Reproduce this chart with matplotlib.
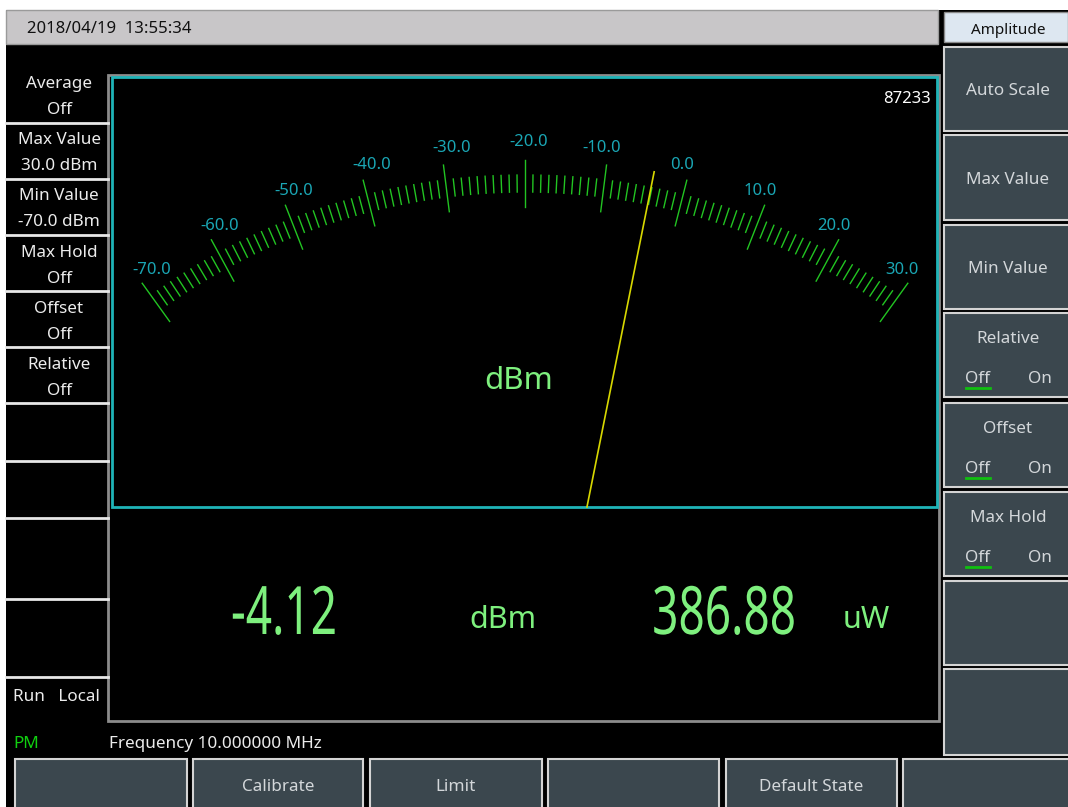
import numpy as np
import matplotlib.pyplot as plt
from matplotlib.patches import Rectangle
from matplotlib.patheffects import AbstractPathEffect
from matplotlib.transforms import Affine2D

# ---- screen content ----
timestamp = "2018/04/19  13:55:34"
left_menu = [("Average", "Off"), ("Max Value", "30.0 dBm"), ("Min Value", "-70.0 dBm"),
             ("Max Hold", "Off"), ("Offset", "Off"), ("Relative", "Off")]
right_title = "Amplitude"
right_keys = ["Auto Scale", "Max Value", "Min Value", "Relative", "Offset", "Max Hold", "", ""]
toggle_keys = ["Relative", "Offset", "Max Hold"]
bottom_keys = ["", "Calibrate", "Limit", "", "Default State", ""]
scale_min, scale_max = -70.0, 30.0
major_values = [-70, -60, -50, -40, -30, -20, -10, 0, 10, 20, 30]
power_dbm = -4.12
power_uw = 386.88
counter = "87233"
frequency = "Frequency 10.000000 MHz"
status = "Run   Local"
mode = "PM"

# ---- colours ----
BTN = "#3b474e"
BTN_EDGE = "#d4d4d4"
BTN_TXT = "#d3d7da"
GREEN_TXT = "#7ef07e"
TEAL = "#1fb4b8"
LABEL = "#1aa6b4"
TICK = "#22c422"
NEEDLE = "#d8d800"
FONT = ["Noto Sans", "DejaVu Sans"]

fig = plt.figure(figsize=(10.68, 8.07), dpi=100)
fig.patch.set_facecolor("black")
ax = fig.add_axes([0, 0, 1, 1])
ax.set_xlim(0, 1068)
ax.set_ylim(807, 0)
ax.axis("off")


class Squeeze(AbstractPathEffect):
    """narrow the glyphs horizontally around a fixed x (display units)"""

    def __init__(self, xc, sx):
        super().__init__()
        self.xc = xc
        self.sx = sx

    def draw_path(self, renderer, gc, tpath, affine, rgbFace=None):
        sq = Affine2D().translate(-self.xc, 0).scale(self.sx, 1).translate(self.xc, 0)
        renderer.draw_path(gc, tpath, affine + sq, rgbFace)


def box(x0, y0, x1, y1, fc=BTN, ec=BTN_EDGE, lw=1.5, z=1):
    ax.add_patch(Rectangle((x0, y0), x1 - x0, y1 - y0, facecolor=fc, edgecolor=ec, lw=lw, zorder=z))


def txt(x, y, s, color="#ececec", size=12.3, ha="center", dy=2, **kw):
    return ax.text(x, y + dy, s, color=color, fontsize=size, ha=ha, va="center", family=FONT, **kw)


# screenshot edges
box(0, 0, 1068, 10, fc="white", ec="none", lw=0)
box(0, 0, 6, 807, fc="white", ec="none", lw=0)

# title bar
box(6, 10, 938, 44, fc="#c8c6c8", ec="#9a9a9a", lw=1)
txt(27, 27, timestamp, color="#111111", size=12, ha="left")

# left panel
for i, (name, val) in enumerate(left_menu):
    y0 = 67 + i * 56.2
    txt(59, y0 + 15, name)
    txt(59, y0 + 41, val)
for ys in [123, 179, 235, 291, 347, 403, 461, 518, 599, 677]:
    ax.plot([6, 108], [ys, ys], color="#e8e8e8", lw=2, zorder=2)
txt(13, 695, status, ha="left")
txt(13, 742, mode, color="#10d010", ha="left")
txt(109, 742, frequency, ha="left")

# right panel
box(944, 12, 1068, 42, fc="#dde7f1", ec="#8a8a8a", lw=1)
txt(1008, 28, right_title, color="#111111", size=11)
key_rows = [(47, 131), (135, 220), (225, 309), (313, 397), (403, 487), (492, 576), (581, 665), (669, 755)]
for name, (y0, y1) in zip(right_keys, key_rows):
    box(944, y0, 1072, y1)
    if name in toggle_keys:
        txt(1008, y0 + 24, name, color=BTN_TXT)
        txt(978, y0 + 64, "Off", color=BTN_TXT)
        txt(1040, y0 + 64, "On", color=BTN_TXT)
        ax.plot([966, 990], [y0 + 75, y0 + 75], color="#10c010", lw=2, zorder=3)
    elif name:
        txt(1008, (y0 + y1) / 2, name, color=BTN_TXT)

# bottom soft keys
bottom_cols = [(15, 187), (193, 363), (370, 542), (548, 719), (726, 897), (903, 1072)]
for name, (x0, x1) in zip(bottom_keys, bottom_cols):
    box(x0, 759, x1, 812)
    if name:
        txt((x0 + x1) / 2, 785, name, color=BTN_TXT)

# meter frame
box(108, 75, 939, 721, fc="black", ec="#8c8c8c", lw=2)
box(112, 77, 937, 507, fc="black", ec=TEAL, lw=2, z=2)
txt(931, 97, counter, color="white", size=12, ha="right")

# analog scale
cx, cy = 525, 816
deg_per_db = 71.4 / (scale_max - scale_min)
mid = (scale_min + scale_max) / 2


def polar(v, r, shift=0.0):
    th = np.radians((v - mid) * deg_per_db + shift)
    return cx + r * np.sin(th), cy - r * np.cos(th)


for v in np.arange(scale_min, scale_max + 1, 1):
    if v in major_values:
        r0, r1 = 609, 656
    else:
        r0, r1 = 624, 641
    xa, ya = polar(v, r0)
    xb, yb = polar(v, r1)
    ax.plot([xa, xb], [ya, yb], color=TICK, lw=1, zorder=3)

for v in major_values:
    a = abs(v - mid) * deg_per_db
    lx, ly = polar(v, 674 - 0.35 * a, shift=-np.sign(v - mid) * (0.8 + 0.015 * a))
    if v >= mid:
        lx += 4
    txt(lx, ly, f"{v:.1f}", color=LABEL, size=12, dy=0)

txt(519, 379, "dBm", color=GREEN_TXT, size=22.5)

# needle, cut by the lower edge of the teal frame
th = np.radians((power_dbm - mid) * deg_per_db)
r_start = (cy - 507) / np.cos(th)
xa, ya = polar(power_dbm, r_start)
xb, yb = polar(power_dbm, 657)
ax.plot([xa, xb], [ya, yb], color=NEEDLE, lw=1.2, zorder=4)

# digital readout (narrow digits)
for x, s in [(284, f"{power_dbm:.2f}"), (724, f"{power_uw:.2f}")]:
    xc = ax.transData.transform((x, 618))[0]
    txt(x, 618, s, color=GREEN_TXT, size=48, dy=-2,
        path_effects=[Squeeze(xc, 0.69)])
txt(503, 618, "dBm", color=GREEN_TXT, size=22)
txt(866, 618, "uW", color=GREEN_TXT, size=22)

fig.savefig("out.png", dpi=100, facecolor=fig.get_facecolor())
